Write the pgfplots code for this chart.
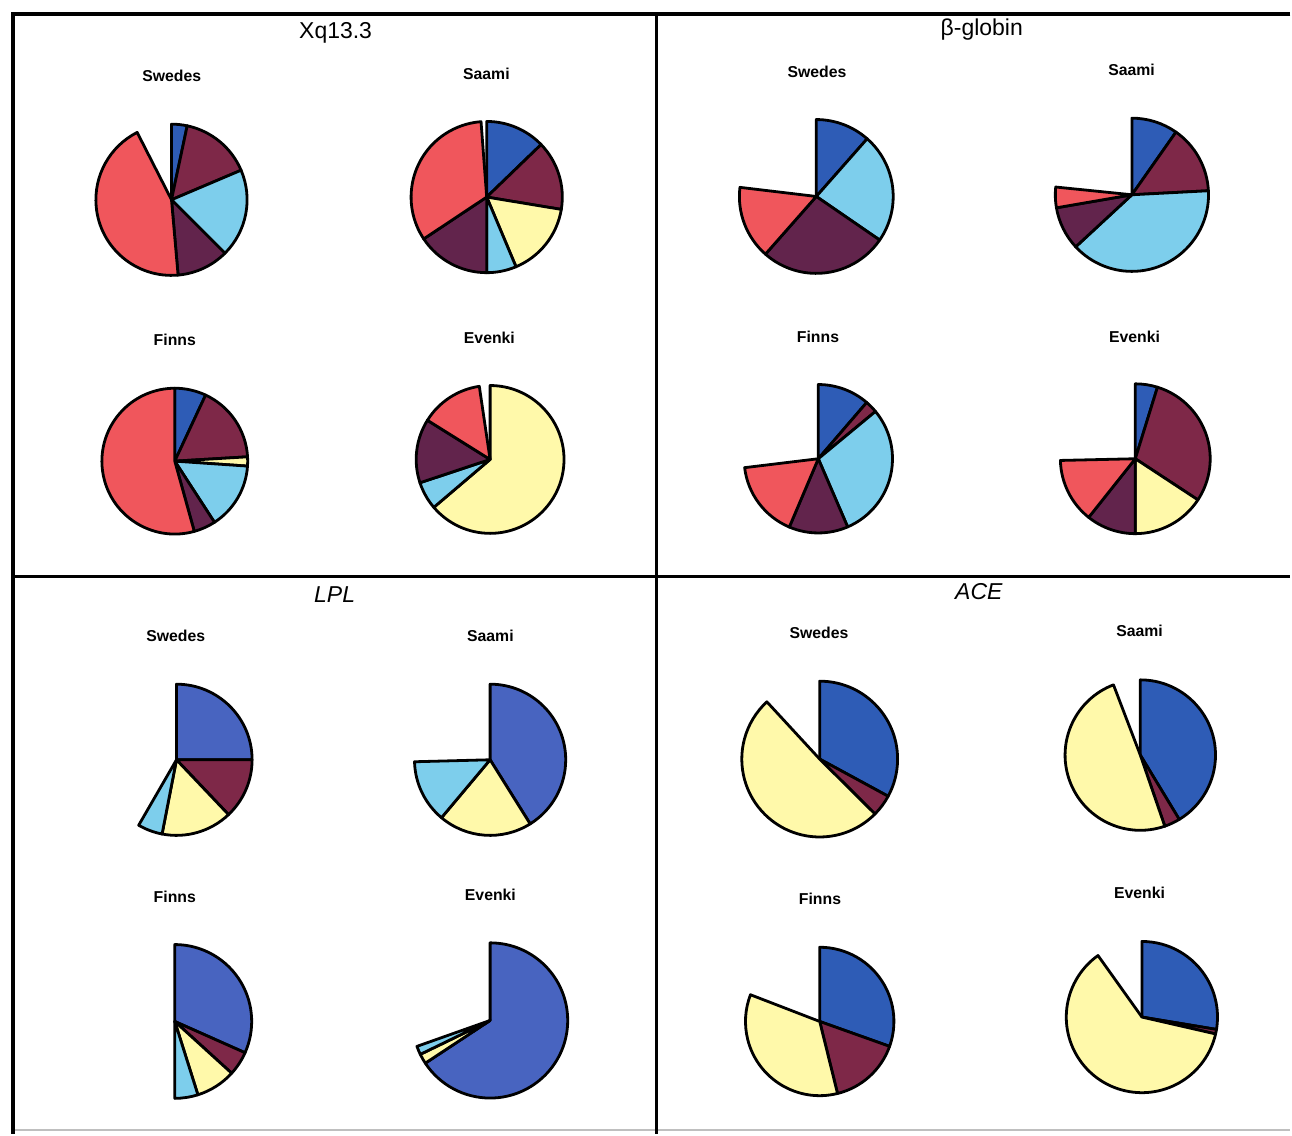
\documentclass[border=0pt]{standalone}
\usepackage{pgfplots}
\pgfplotsset{compat=1.18}
\usepackage{pgfplotstable}
\usepackage{fontspec}
\setmainfont{Liberation Sans}
\definecolor{cblue}{RGB}{46,92,182}
\definecolor{lplblue}{RGB}{72,100,192}
\definecolor{cmaroon}{RGB}{126,40,72}
\definecolor{csky}{RGB}{125,206,236}
\definecolor{cplum}{RGB}{98,36,76}
\definecolor{csalmon}{RGB}{240,86,92}
\definecolor{ccream}{RGB}{255,249,170}
\pgfdeclareplotmark{nothing}{}
% slices: centre (x,y) in px (y downwards), start/end angle (deg, clockwise), radius px,
% colour index c: 0 blue, 1 LPL blue, 2 maroon, 3 sky blue, 4 plum, 5 salmon, 6 cream
\pgfplotstableread{
x y a1 a2 r c
171.7 200 90 78 75.7 0
171.7 200 78 23 75.7 2
171.7 200 23 -45 75.7 3
171.7 200 -45 -85 75.7 4
171.7 200 -85 -243 75.7 5
487.3 197.3 90 44 75.7 0
487.3 197.3 44 -9.4 75.7 2
487.3 197.3 -9.4 -67.2 75.7 6
487.3 197.3 -67.2 -90 75.7 3
487.3 197.3 -90 -146.4 75.7 4
487.3 197.3 -146.4 -265.7 75.7 5
175 461.7 90 65 73 0
175 461.7 65 3.4 73 2
175 461.7 3.4 -3.9 73 6
175 461.7 -3.9 -57 73 3
175 461.7 -57 -74.5 73 4
175 461.7 -74.5 -270 73 5
490.7 460 90 -139.6 74 6
490.7 460 -139.6 -161.6 74 3
490.7 460 -161.6 -212 74 4
490.7 460 -212 -261.6 74 5
817.3 196.7 90 48.6 77 0
817.3 196.7 48.6 -34.5 77 3
817.3 196.7 -34.5 -131.4 77 4
817.3 196.7 -131.4 -186.8 77 5
1133.3 195 90 54.9 76.7 0
1133.3 195 54.9 3 76.7 2
1133.3 195 3 -137.2 76.7 3
1133.3 195 -137.2 -170.2 76.7 4
1133.3 195 -170.2 -185.8 76.7 5
819.3 459.3 90 49.3 74.3 0
819.3 459.3 49.3 39.6 74.3 2
819.3 459.3 39.6 -66.7 74.3 3
819.3 459.3 -66.7 -113 74.3 4
819.3 459.3 -113 -173.1 74.3 5
1136.7 459.3 90 72.8 75 0
1136.7 459.3 72.8 -33.3 75 2
1136.7 459.3 -33.3 -90 75 6
1136.7 459.3 -90 -128.5 75 4
1136.7 459.3 -128.5 -178.7 75 5
176.7 760.7 90 0 75.7 1
176.7 760.7 0 -46.5 75.7 2
176.7 760.7 -46.5 -101 75.7 6
176.7 760.7 -101 -120 75.7 3
490.7 760.7 90 -58 75.7 1
490.7 760.7 -58 -130 75.7 6
490.7 760.7 -130 -178.5 75.7 3
175 1022.7 90 -24 77 1
175 1022.7 -24 -42.3 77 2
175 1022.7 -42.3 -72.5 77 6
175 1022.7 -72.5 -90 77 3
490.7 1021.7 90 -146.6 77.7 1
490.7 1021.7 -146.6 -154.1 77.7 6
490.7 1021.7 -154.1 -160.5 77.7 3
820.7 760 90 -28.5 78 0
820.7 760 -28.5 -44.8 78 2
820.7 760 -44.8 -227.3 78 6
1141.7 756 90 -58.8 75.3 0
1141.7 756 -58.8 -71 75.3 2
1141.7 756 -71 -249.1 75.3 6
820.7 1022.7 90 -19.6 74.3 0
820.7 1022.7 -19.6 -76.1 74.3 2
820.7 1022.7 -76.1 -201.1 74.3 6
1143.3 1018.3 90 -9.4 75.7 0
1143.3 1018.3 -9.4 -12.9 75.7 2
1143.3 1018.3 -12.9 -234.5 75.7 6
}\slices
\begin{document}
\begin{tikzpicture}
\begin{axis}[
  x=0.5pt, y=0.5pt, y dir=reverse,
  xmin=0, xmax=1292, ymin=0, ymax=1135,
  hide axis, clip=false,
]
\addplot[draw=none, mark=none] coordinates {(0,0) (1292,1135)};
\addplot[black!25, line width=1pt, mark=none] coordinates {(13,1131) (1292,1131)};
\addplot[black, line width=1.6pt, mark=none] coordinates {(1292,14) (13,14) (13,1135)};
\addplot[black, line width=1.6pt, mark=none] coordinates {(657,14) (657,1135)};
\addplot[black, line width=1.6pt, mark=none] coordinates {(13,577) (1292,577)};
\addplot[
  scatter, only marks, mark=nothing,
  visualization depends on={\thisrow{a1}\as\aone},
  visualization depends on={\thisrow{a2}\as\atwo},
  visualization depends on={\thisrow{r}\as\rad},
  visualization depends on={\thisrow{c}\as\cidx},
  scatter/@pre marker code/.code={%
    \begingroup\pgfkeys{/pgf/fpu=false}%
    \pgfmathtruncatemacro\ci{\cidx}%
    \ifcase\ci \def\sc{cblue}\or \def\sc{lplblue}\or \def\sc{cmaroon}\or
      \def\sc{csky}\or \def\sc{cplum}\or \def\sc{csalmon}\or \def\sc{ccream}\fi
    \fill[fill=\sc, draw=black, line width=1.4pt, line join=round]
      (0,0) -- (\aone:{\rad*0.5pt}) arc[start angle=\aone, end angle=\atwo, radius={\rad*0.5pt}] -- cycle;
    \endgroup
  },
  scatter/@post marker code/.code={},
] table {\slices};
% titles
\node[font=\fontsize{11.5}{13}\selectfont] at (axis cs:336,33) {Xq13.3};
\node[font=\fontsize{11.5}{13}\selectfont] at (axis cs:983,30) {β-globin};
\node[font=\fontsize{11.5}{13}\selectfont\itshape] at (axis cs:335,595) {LPL};
\node[font=\fontsize{11.5}{13}\selectfont\itshape] at (axis cs:980,592) {ACE};
% population labels
\tikzset{pop/.style={font=\fontsize{7.9}{9.5}\selectfont\bfseries}}
\node[pop] at (axis cs:172,76) {Swedes};
\node[pop] at (axis cs:487,74) {Saami};
\node[pop] at (axis cs:175,340) {Finns};
\node[pop] at (axis cs:490,338) {Evenki};
\node[pop] at (axis cs:818,72) {Swedes};
\node[pop] at (axis cs:1133,70) {Saami};
\node[pop] at (axis cs:819,337) {Finns};
\node[pop] at (axis cs:1136,337) {Evenki};
\node[pop] at (axis cs:176,637) {Swedes};
\node[pop] at (axis cs:491,637) {Saami};
\node[pop] at (axis cs:175,898) {Finns};
\node[pop] at (axis cs:491,896) {Evenki};
\node[pop] at (axis cs:820,634) {Swedes};
\node[pop] at (axis cs:1141,632) {Saami};
\node[pop] at (axis cs:821,900) {Finns};
\node[pop] at (axis cs:1141,894) {Evenki};
\end{axis}
\end{tikzpicture}
\end{document}
